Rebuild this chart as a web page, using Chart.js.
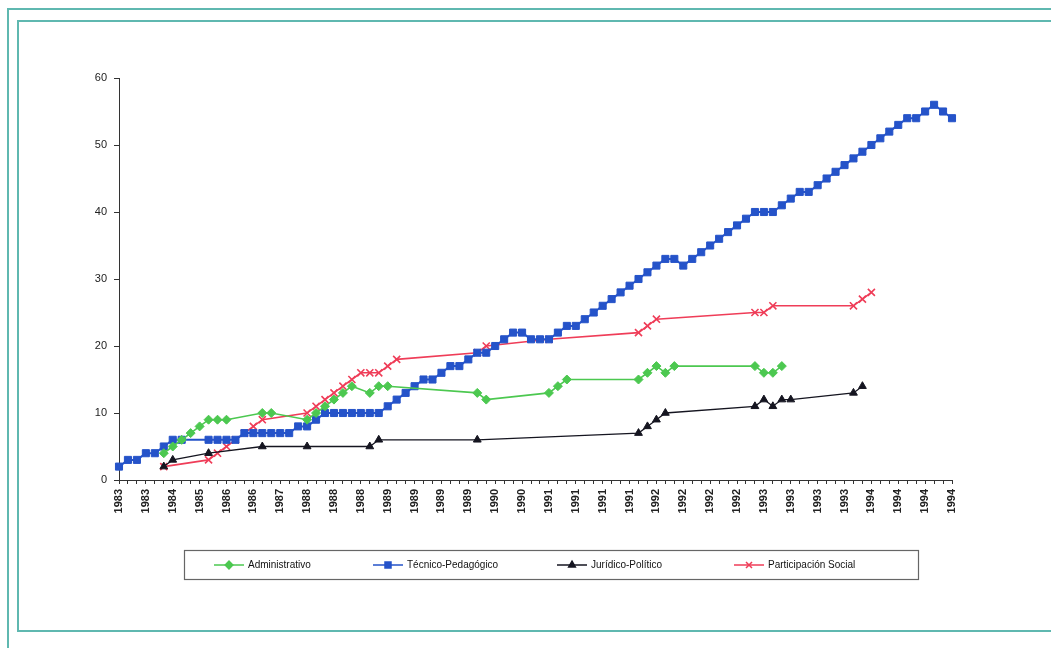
<!DOCTYPE html>
<html>
<head>
<meta charset="utf-8">
<script src="https://cdn.jsdelivr.net/npm/chart.js@4/dist/chart.umd.min.js"></script>
<style>
  html, body { margin: 0; padding: 0; background: #fff; }
  #wrap { position: relative; width: 1051px; height: 648px; overflow: hidden; background: #fff; }
  .frame { position: absolute; border: 2px solid #5fb8b0; box-sizing: border-box; }
  #outer { left: 7px; top: 8px; width: 1070px; height: 680px; }
  #inner { left: 17px; top: 20px; width: 1060px; height: 612px; }
  canvas { position: absolute; left: 0; top: 0; }
</style>
</head>
<body>
<div id="wrap">
  <div class="frame" id="outer"></div>
  <div class="frame" id="inner"></div>
  <canvas id="chart" width="1051" height="648"></canvas>
</div>
<script>
// Year shown under every third category (94 categories in total)
const tickYears = [
  '1983','1983','1984','1985','1986','1986','1987','1988','1988','1988',
  '1989','1989','1989','1989','1990','1990','1991','1991','1991','1991',
  '1992','1992','1992','1992','1993','1993','1993','1993','1994','1994',
  '1994','1994'
];
const LABEL_EVERY = 3;
const categories = [];
for (let i = 0; i < (tickYears.length - 1) * LABEL_EVERY + 1; i++) {
  categories.push(tickYears[Math.floor(i / LABEL_EVERY)]);
}

const _ = null;
const administrativo = [
  _, _, _, _, _, 4, 5, 6, 7, 8,
  9, 9, 9, _, _, _, 10, 10, _, _,
  _, 9, 10, 11, 12, 13, 14, _, 13, 14,
  14, _, _, _, _, _, _, _, _, _,
  13, 12, _, _, _, _, _, _, 13, 14,
  15, _, _, _, _, _, _, _, 15, 16,
  17, 16, 17, _, _, _, _, _, _, _,
  _, 17, 16, 16, 17, _, _, _, _, _,
  _, _, _, _, _, _, _, _, _, _,
  _, _, _, _
];
const tecnicoPedagogico = [
  2, 3, 3, 4, 4, 5, 6, 6, _, _,
  6, 6, 6, 6, 7, 7, 7, 7, 7, 7,
  8, 8, 9, 10, 10, 10, 10, 10, 10, 10,
  11, 12, 13, 14, 15, 15, 16, 17, 17, 18,
  19, 19, 20, 21, 22, 22, 21, 21, 21, 22,
  23, 23, 24, 25, 26, 27, 28, 29, 30, 31,
  32, 33, 33, 32, 33, 34, 35, 36, 37, 38,
  39, 40, 40, 40, 41, 42, 43, 43, 44, 45,
  46, 47, 48, 49, 50, 51, 52, 53, 54, 54,
  55, 56, 55, 54
];
const juridicoPolitico = [
  _, _, _, _, _, 2, 3, _, _, _,
  4, _, _, _, _, _, 5, _, _, _,
  _, 5, _, _, _, _, _, _, 5, 6,
  _, _, _, _, _, _, _, _, _, _,
  6, _, _, _, _, _, _, _, _, _,
  _, _, _, _, _, _, _, _, 7, 8,
  9, 10, _, _, _, _, _, _, _, _,
  _, 11, 12, 11, 12, 12, _, _, _, _,
  _, _, 13, 14, _, _, _, _, _, _,
  _, _, _, _
];
const participacionSocial = [
  _, _, _, _, _, 2, _, _, _, _,
  3, 4, 5, 6, 7, 8, 9, _, _, _,
  _, 10, 11, 12, 13, 14, 15, 16, 16, 16,
  17, 18, _, _, _, _, _, _, _, _,
  19, 20, _, _, _, _, _, _, 21, _,
  _, _, _, _, _, _, _, _, 22, 23,
  24, _, _, _, _, _, _, _, _, _,
  _, 25, 25, 26, _, _, _, _, _, _,
  _, _, 26, 27, 28, _, _, _, _, _,
  _, _, _, _
];

const FONT = '"Liberation Sans", Arial, sans-serif';

// Boxed legend under the axis, each entry drawn as a short line with its marker
const legendX = [214, 373, 557, 734];
const boxedLegend = {
  id: 'boxedLegend',
  afterDraw(chart) {
    const ctx = chart.ctx;
    ctx.save();
    ctx.strokeStyle = '#666';
    ctx.lineWidth = 1.2;
    ctx.strokeRect(184.5, 550.5, 734, 29);
    const y = 565;
    chart.data.datasets.forEach((ds, k) => {
      const x0 = legendX[k];
      ctx.strokeStyle = ds.borderColor;
      ctx.fillStyle = ds.backgroundColor;
      ctx.lineWidth = 1.5;
      ctx.beginPath();
      ctx.moveTo(x0, y);
      ctx.lineTo(x0 + 30, y);
      ctx.stroke();
      Chart.helpers.drawPoint(ctx, {
        pointStyle: ds.pointStyle,
        radius: ds.pointRadius * 0.85,
        borderWidth: ds.pointBorderWidth,
        rotation: 0
      }, x0 + 15, y);
      ctx.fillStyle = '#111';
      ctx.font = '10px ' + FONT;
      ctx.textBaseline = 'middle';
      ctx.textAlign = 'left';
      ctx.fillText(ds.label, x0 + 34, y + 0.5);
    });
    ctx.restore();
  }
};

function series(label, data, color, style, radius, width) {
  return {
    label, data,
    borderColor: color,
    backgroundColor: color,
    pointStyle: style,
    pointRadius: radius,
    pointHoverRadius: radius,
    pointBorderWidth: style === 'crossRot' ? 1.6 : 1,
    borderWidth: width,
    spanGaps: true,
    tension: 0
  };
}

new Chart(document.getElementById('chart'), {
  type: 'line',
  data: {
    labels: categories,
    datasets: [
      series('Administrativo', administrativo, '#4cc850', 'rectRot', 4.5, 1.6),
      series('Técnico-Pedagógico', tecnicoPedagogico, '#2553c9', 'rect', 5, 2),
      series('Jurídico-Político', juridicoPolitico, '#151520', 'triangle', 4.5, 1.3),
      series('Participación Social', participacionSocial, '#ef3d58', 'crossRot', 5, 1.6)
    ]
  },
  options: {
    responsive: false,
    animation: false,
    devicePixelRatio: 1,
    layout: { padding: { left: 0, right: 99, top: 78, bottom: 108 } },
    plugins: { legend: { display: false }, tooltip: { enabled: false } },
    scales: {
      x: {
        offset: false,
        afterFit(scale) { scale.height = 60; },
        grid: { drawOnChartArea: false, drawTicks: true, tickLength: 4, color: '#333', lineWidth: 1 },
        border: { display: true, color: '#333', width: 1 },
        ticks: {
          autoSkip: false,
          maxRotation: 90,
          minRotation: 90,
          padding: 5,
          color: '#222',
          font: { family: FONT, size: 11, weight: 'bold' },
          callback(value, index) {
            return index % LABEL_EVERY === 0 ? this.getLabelForValue(value) : '';
          }
        }
      },
      y: {
        min: 0,
        max: 60,
        afterFit(scale) { scale.width = 119; },
        grid: { drawOnChartArea: false, drawTicks: true, tickLength: 5, color: '#333' },
        border: { display: true, color: '#333', width: 1 },
        ticks: {
          stepSize: 10,
          padding: 7,
          color: '#222',
          font: { family: FONT, size: 11 }
        }
      }
    }
  },
  plugins: [boxedLegend]
});
</script>
</body>
</html>
